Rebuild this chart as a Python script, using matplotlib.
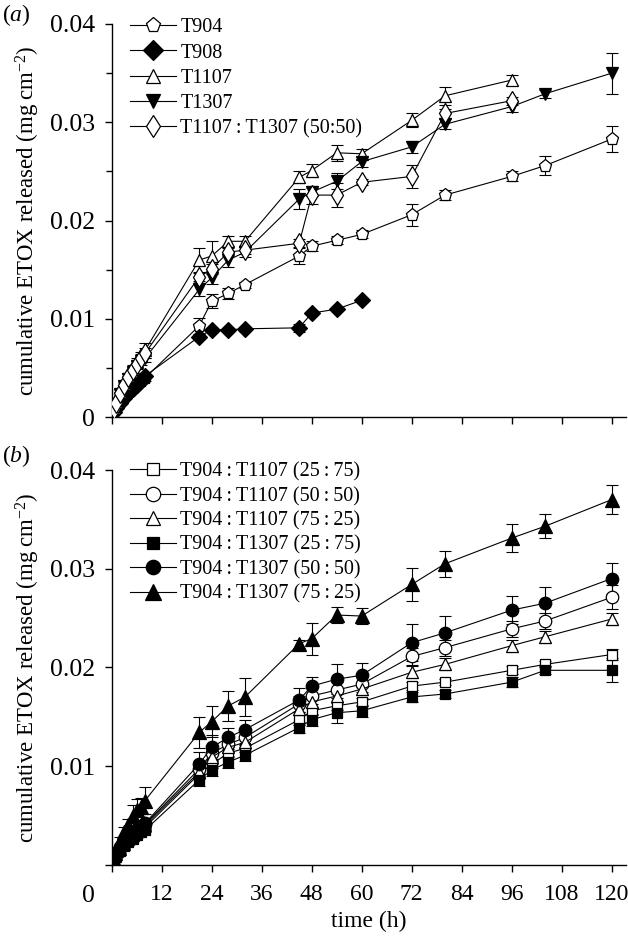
import numpy as np
import matplotlib
matplotlib.use('Agg')
import matplotlib.pyplot as plt

plt.rcParams['font.family'] = ['Liberation Serif', 'DejaVu Serif']
plt.rcParams['mathtext.fontset'] = 'custom'
plt.rcParams['mathtext.rm'] = 'Liberation Serif'
plt.rcParams['mathtext.it'] = 'Liberation Serif:italic'

# ---- sampling times (h) ----
t_early = [0.5, 1, 2, 3, 4, 5, 6, 7, 8]
t_late = [21, 24, 28, 32, 45, 48, 54, 60, 72, 80, 96, 104, 120]
t_all = t_early + t_late
t_908 = t_early + [21, 24, 28, 32, 45, 48, 54, 60]
t_96 = t_early + [21, 24, 28, 32, 45, 48, 54, 60, 72, 80, 96]

# ---- panel (a): single polymers (mg cm-2) ----
a_T904 = [0.0006, 0.0010, 0.0016, 0.0021, 0.0026, 0.0030, 0.0034, 0.0037, 0.0040,
          0.0093, 0.0118, 0.0126, 0.0135, 0.0164, 0.0174, 0.0180, 0.0186,
          0.0206, 0.0226, 0.0245, 0.0256, 0.0283]
a_T904_err = [0.0002, 0.0002, 0.0002, 0.0003, 0.0003, 0.0003, 0.0003, 0.0003, 0.0003,
              0.0008, 0.0007, 0.0006, 0.0003, 0.0008, 0.0005, 0.0004, 0.0004,
              0.0011, 0.0005, 0.0005, 0.0010, 0.0013]
a_T908 = [0.0005, 0.0009, 0.0015, 0.0020, 0.0025, 0.0029, 0.0033, 0.0037, 0.0042,
          0.0082, 0.0089, 0.0089, 0.0090, 0.0091, 0.0106, 0.0110, 0.0119]
a_T908_err = [0.0001] * 9 + [0.0002, 0.0002, 0.0002, 0.0002, 0.0004, 0.0002, 0.0002, 0.0002]
a_T1107 = [0.0009, 0.0016, 0.0026, 0.0034, 0.0042, 0.0049, 0.0056, 0.0062, 0.0068,
           0.0160, 0.0164, 0.0179, 0.0179, 0.0244, 0.0251, 0.0269, 0.0268,
           0.0302, 0.0327, 0.0343]
a_T1107_err = [0.0002, 0.0002, 0.0003, 0.0003, 0.0003, 0.0004, 0.0004, 0.0004, 0.0008,
               0.0012, 0.0015, 0.0005, 0.0005, 0.0006, 0.0007, 0.0008, 0.0005,
               0.0007, 0.0009, 0.0005]
a_T1307 = [0.0008, 0.0014, 0.0024, 0.0032, 0.0039, 0.0046, 0.0052, 0.0057, 0.0060,
           0.0130, 0.0142, 0.0160, 0.0168, 0.0222, 0.0229, 0.0240, 0.0260,
           0.0275, 0.0298, 0.0316, 0.0329, 0.0350]
a_T1307_err = [0.0002, 0.0002, 0.0002, 0.0003, 0.0003, 0.0003, 0.0003, 0.0004, 0.0004,
               0.0007, 0.0006, 0.0007, 0.0005, 0.0010, 0.0004, 0.0008, 0.0005,
               0.0006, 0.0005, 0.0006, 0.0004, 0.0021]
a_mix = [0.0008, 0.0015, 0.0025, 0.0033, 0.0041, 0.0048, 0.0054, 0.0060, 0.0065,
         0.0143, 0.0151, 0.0168, 0.0170, 0.0177, 0.0226, 0.0226, 0.0239,
         0.0245, 0.0309, 0.0322]
a_mix_err = [0.0002, 0.0002, 0.0003, 0.0003, 0.0003, 0.0003, 0.0003, 0.0004, 0.0005,
             0.0004, 0.0005, 0.0004, 0.0004, 0.0004, 0.0009, 0.0012, 0.0003,
             0.0012, 0.0005, 0.0004]

# ---- panel (b): T904 blends (mg cm-2) ----
b_1107_25 = [0.0006, 0.0010, 0.0016, 0.0021, 0.0025, 0.0029, 0.0032, 0.0035, 0.0038,
             0.0092, 0.0102, 0.0113, 0.0118, 0.0147, 0.0156, 0.0161, 0.0165,
             0.0181, 0.0185, 0.0197, 0.0203, 0.0213]
b_1107_25_err = [0.0002] * 9 + [0.0005, 0.0004, 0.0004, 0.0004, 0.0005, 0.0004, 0.0004, 0.0004,
                                0.0004, 0.0003, 0.0004, 0.0003, 0.0006]
b_1107_50 = [0.0007, 0.0011, 0.0017, 0.0022, 0.0027, 0.0031, 0.0035, 0.0038, 0.0041,
             0.0097, 0.0113, 0.0122, 0.0129, 0.0163, 0.0171, 0.0177, 0.0183,
             0.0211, 0.0220, 0.0239, 0.0247, 0.0271]
b_1107_50_err = [0.0002] * 9 + [0.0008, 0.0008, 0.0008, 0.0008, 0.0008, 0.0008, 0.0008, 0.0008,
                                0.0009, 0.0008, 0.0008, 0.0008, 0.0012]
b_1107_75 = [0.0006, 0.0011, 0.0016, 0.0021, 0.0026, 0.0030, 0.0034, 0.0037, 0.0040,
             0.0094, 0.0109, 0.0119, 0.0124, 0.0158, 0.0165, 0.0171, 0.0178,
             0.0195, 0.0203, 0.0222, 0.0231, 0.0249]
b_1107_75_err = [0.0002] * 9 + [0.0006] * 13
b_1307_25 = [0.0005, 0.0009, 0.0014, 0.0019, 0.0023, 0.0026, 0.0030, 0.0033, 0.0035,
             0.0086, 0.0096, 0.0104, 0.0111, 0.0139, 0.0147, 0.0154, 0.0156,
             0.0170, 0.0173, 0.0185, 0.0197, 0.0197]
b_1307_25_err = [0.0002] * 9 + [0.0006, 0.0006, 0.0006, 0.0006, 0.0006, 0.0006, 0.0010, 0.0006,
                                0.0005, 0.0004, 0.0005, 0.0004, 0.0012]
b_1307_50 = [0.0007, 0.0012, 0.0018, 0.0023, 0.0028, 0.0032, 0.0036, 0.0039, 0.0042,
             0.0102, 0.0119, 0.0129, 0.0137, 0.0167, 0.0181, 0.0188, 0.0192,
             0.0225, 0.0235, 0.0258, 0.0265, 0.0290]
b_1307_50_err = [0.0002] * 9 + [0.0012, 0.0012, 0.0010, 0.0010, 0.0012, 0.0009, 0.0015, 0.0012,
                                0.0019, 0.0017, 0.0014, 0.0016, 0.0016]
b_1307_75 = [0.0010, 0.0015, 0.0024, 0.0033, 0.0040, 0.0049, 0.0055, 0.0058, 0.0065,
             0.0134, 0.0145, 0.0161, 0.0170, 0.0224, 0.0229, 0.0253, 0.0252,
             0.0284, 0.0305, 0.0331, 0.0343, 0.0370]
b_1307_75_err = [0.0003, 0.0003, 0.0004, 0.0005, 0.0006, 0.0012, 0.0012, 0.0010, 0.0014,
                 0.0016, 0.0016, 0.0015, 0.0019, 0.0004, 0.0016, 0.0008, 0.0008,
                 0.0017, 0.0013, 0.0014, 0.0012, 0.0015]

labels_a = ['T904', 'T908', 'T1107', 'T1307', 'T1107\u2009:\u2009T1307 (50:50)']
labels_b = ['T904\u2009:\u2009T1107 (25\u2009:\u200975)', 'T904\u2009:\u2009T1107 (50\u2009:\u200950)',
            'T904\u2009:\u2009T1107 (75\u2009:\u200925)', 'T904\u2009:\u2009T1307 (25\u2009:\u200975)',
            'T904\u2009:\u2009T1307 (50\u2009:\u200950)', 'T904\u2009:\u2009T1307 (75\u2009:\u200925)']

series_a = [(t_all, a_T904, a_T904_err, 'p', 'white', 9.5),
            (t_908, a_T908, a_T908_err, 'D', 'black', 8.5),
            (t_96, a_T1107, a_T1107_err, '^', 'white', 9),
            (t_all, a_T1307, a_T1307_err, 'v', 'black', 9),
            (t_96, a_mix, a_mix_err, 'd', 'white', 10)]
series_b = [(t_all, b_1107_25, b_1107_25_err, 's', 'white', 7.5),
            (t_all, b_1107_50, b_1107_50_err, 'o', 'white', 9),
            (t_all, b_1107_75, b_1107_75_err, '^', 'white', 9),
            (t_all, b_1307_25, b_1307_25_err, 's', 'black', 7.5),
            (t_all, b_1307_50, b_1307_50_err, 'o', 'black', 9),
            (t_all, b_1307_75, b_1307_75_err, '^', 'black', 9.5)]

W, H = 628, 940
fig = plt.figure(figsize=(W / 100, H / 100), dpi=100)
ax1 = fig.add_axes([111.7 / W, 1 - 417.3 / H, 514.6 / W, 393.3 / H])
ax2 = fig.add_axes([111.7 / W, 1 - 864.7 / H, 514.6 / W, 394.7 / H])


def draw(ax, series, labels, minor, leg_top, leg_gap):
    for (t, y, e, m, fc, ms), lab in zip(series, labels):
        ax.errorbar(t, y, yerr=e, fmt='none', ecolor='black', elinewidth=0.8,
                    capsize=4, capthick=0.8, zorder=2)
        ax.plot(t, y, '-', color='black', lw=0.8, marker=m, ms=ms, mfc=fc,
                mec='black', mew=0.9, label=lab, zorder=3)
    ax.set_xlim(0, 123.5)
    ax.set_ylim(0, 0.04)
    ax.set_xticks(np.arange(0, 121, 12))
    ax.set_yticks([0, 0.01, 0.02, 0.03, 0.04])
    if minor:
        ax.set_yticks([0.005, 0.015, 0.025, 0.035], minor=True)
    for s in ['top', 'right']:
        ax.spines[s].set_visible(False)
    for s in ['left', 'bottom']:
        ax.spines[s].set_linewidth(1.0)
    ax.tick_params(direction='out', length=5, width=1.0, labelsize=17, pad=5)
    ax.tick_params(axis='y', labelsize=18.5, pad=7)
    ax.tick_params(which='minor', direction='out', length=4, width=1.0)
    ax.set_ylabel('cumulative ETOX released (mg\u2009cm$^{-2}$)', fontsize=16.5, labelpad=6)
    ax.legend(loc='upper left', bbox_to_anchor=(0.02, leg_top), frameon=False,
              fontsize=14.5, handlelength=2.3, handletextpad=0.2, markerscale=1.15,
              labelspacing=leg_gap, borderaxespad=0)


draw(ax1, series_a, labels_a, True, 1.035, 0.3)
draw(ax2, series_b, labels_b, False, 1.04, 0.26)

ax1.set_xticklabels([])
ax1.set_yticklabels(['0', '0.01', '0.02', '0.03', '0.04'])
ax2.set_yticklabels(['', '0.01', '0.02', '0.03', '0.04'])
ax2.set_xticklabels([''] + [str(v) for v in range(12, 121, 12)])
ax2.tick_params(axis='x', pad=9)
ax2.set_xlabel('time (h)', fontsize=17, labelpad=4)
fig.text(88 / W, 1 - 896 / H, '0', fontsize=18.5, ha='center', va='center')

fig.text(2 / W, 1 - 15 / H, '($\\it{a}$)', fontsize=17, ha='left', va='center')
fig.text(2 / W, 1 - 456 / H, '($\\it{b}$)', fontsize=17, ha='left', va='center')

fig.savefig('out.png', dpi=100)
